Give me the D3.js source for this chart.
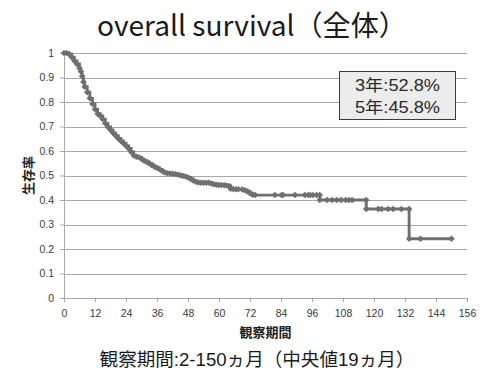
<!DOCTYPE html>
<html><head><meta charset="utf-8">
<script src="https://cdn.jsdelivr.net/npm/d3@7"></script>
<style>body{margin:0;background:#fff}svg{display:block}</style>
</head><body>
<svg id="chart" width="500" height="380"></svg>
<script>
// ---- data ----
const months = [
  0, 1, 2, 3, 4, 5, 6, 6.5, 7, 7.5, 8, 9, 10, 11, 12, 13, 14, 15, 16, 17, 18, 19, 20,
  21, 22, 23, 24, 25, 26, 27, 28, 29, 30, 31, 32, 33, 34, 35, 36, 37, 38, 39, 40,
  41, 42, 43, 44, 45, 46, 47, 48, 49, 50, 51, 52, 53, 54, 55, 56, 57, 58, 59, 60,
  61, 62, 63, 64, 64.5, 65.5, 66.5, 67.5, 69, 70, 71, 72, 73,
  74, 81.6, 84.2, 84.8, 89.4, 93.2, 94.5, 95.4, 96.4, 97.8, 99,
  99, 101.8, 103.8, 105.5, 107.2, 109.1, 110.3, 111.5, 117,
  117, 121.6, 122.9, 125.5, 127.4, 130.6, 133.6,
  133.6, 138, 150
];
const survival = [
  1.000, 1.000, 0.995, 0.983, 0.968, 0.955, 0.938, 0.925, 0.905, 0.882, 0.862, 0.840, 0.815, 0.792, 0.770, 0.752, 0.743, 0.730, 0.712, 0.698, 0.686, 0.673, 0.662,
  0.651, 0.641, 0.632, 0.621, 0.610, 0.596, 0.582, 0.577, 0.574, 0.567, 0.560, 0.555, 0.549, 0.542, 0.536, 0.531, 0.525, 0.518, 0.512, 0.509,
  0.508, 0.507, 0.506, 0.504, 0.501, 0.498, 0.496, 0.492, 0.486, 0.480, 0.474, 0.471, 0.470, 0.470, 0.470, 0.470, 0.467, 0.464, 0.462, 0.461,
  0.461, 0.460, 0.459, 0.457, 0.446, 0.445, 0.444, 0.444, 0.443, 0.440, 0.435, 0.428, 0.421,
  0.420, 0.420, 0.420, 0.420, 0.420, 0.420, 0.420, 0.420, 0.420, 0.420, 0.420,
  0.400, 0.400, 0.400, 0.400, 0.400, 0.400, 0.400, 0.400, 0.400,
  0.363, 0.363, 0.363, 0.363, 0.363, 0.363, 0.363,
  0.242, 0.242, 0.242
];
const xTicks = [0, 12, 24, 36, 48, 60, 72, 84, 96, 108, 120, 132, 144, 156];
const yTicks = [0, 0.1, 0.2, 0.3, 0.4, 0.5, 0.6, 0.7, 0.8, 0.9, 1];
const yTickLabels = ["0", "0.1", "0.2", "0.3", "0.4", "0.5", "0.6", "0.7", "0.8", "0.9", "1"];
const titleText = "overall survival（全体）";
const xTitle = "観察期間";
const yTitle = "生存率";
const noteLines = ["3年:52.8%", "5年:45.8%"];
const subtitleText = "観察期間:2-150ヵ月（中央値19ヵ月）";

// ---- drawing ----
const svg = d3.select("#chart");
const W = 500, H = 380;
const m = {left: 64, right: 33, top: 53, bottom: 82};
const x = d3.scaleLinear().domain([0, 156]).range([m.left, W - m.right]);
const y = d3.scaleLinear().domain([0, 1]).range([H - m.bottom, m.top]);
const cjk = "'Noto Sans CJK JP', 'Noto Sans', sans-serif";
const latin = "'Liberation Sans', 'Noto Sans CJK JP', sans-serif";
const gridColor = "#a8a8a8";
const lineColor = "#6f6f6f";

// gridlines
svg.append("g").selectAll("line").data(yTicks.filter(d => d > 0)).join("line")
  .attr("x1", x(0)).attr("x2", x(156))
  .attr("y1", d => Math.round(y(d)) + 0.5).attr("y2", d => Math.round(y(d)) + 0.5)
  .attr("stroke", gridColor).attr("stroke-width", 1);

// y axis
const yAxis = svg.append("g").attr("transform", `translate(${x(0)},0)`)
  .call(d3.axisLeft(y).tickValues(yTicks).tickFormat((d, i) => yTickLabels[i]).tickSize(4).tickPadding(6));
// x axis
const xAxis = svg.append("g").attr("transform", `translate(0,${y(0)})`)
  .call(d3.axisBottom(x).tickValues(xTicks).tickFormat(d3.format("d")).tickSize(4).tickPadding(8));
[yAxis, xAxis].forEach(a => {
  a.select(".domain").attr("stroke", gridColor);
  a.selectAll(".tick line").attr("stroke", gridColor);
  a.selectAll(".tick text").attr("fill", "#3a3a3a")
    .style("font-family", "'Liberation Sans', sans-serif").style("font-size", "10.5px");
});

// curve
const pts = months.map((mo, i) => [mo, survival[i]]);
svg.append("path").datum(pts)
  .attr("fill", "none").attr("stroke", lineColor).attr("stroke-width", 2.9)
  .attr("d", d3.line().x(d => x(d[0])).y(d => y(d[1])).curve(d3.curveStepAfter));
svg.append("g").selectAll("path").data(pts).join("path")
  .attr("transform", d => `translate(${x(d[0])},${y(d[1])}) rotate(45)`)
  .attr("d", d3.symbol(d3.symbolSquare, 21))
  .attr("fill", lineColor);

// title
function fitWidth(sel, target) {
  const w = sel.node().getComputedTextLength();
  const fs = parseFloat(sel.style("font-size"));
  sel.style("font-size", (fs * target / w) + "px");
}
const t = svg.append("text").attr("x", 252).attr("y", 36).attr("text-anchor", "middle")
  .style("font-family", cjk).style("font-size", "27px").attr("fill", "#1a1a1a").text(titleText);
fitWidth(t, 310);

// axis titles
svg.append("text").attr("x", (x(0) + x(156)) / 2).attr("y", 337).attr("text-anchor", "middle")
  .style("font-family", cjk).style("font-size", "13px").style("font-weight", "bold").attr("fill", "#222")
  .text(xTitle);
svg.append("text").attr("transform", `translate(33,${(y(0) + y(1)) / 2}) rotate(-90)`)
  .attr("text-anchor", "middle")
  .style("font-family", cjk).style("font-size", "13px").style("font-weight", "bold").attr("fill", "#222")
  .text(yTitle);

// note box
const bx = 339.5, by = 71.5, bw = 116, bh = 48;
svg.append("rect").attr("x", bx).attr("y", by).attr("width", bw).attr("height", bh)
  .attr("fill", "#ececec").attr("stroke", "#3a3a3a").attr("stroke-width", 1);
noteLines.forEach((s, i) => {
  svg.append("text").attr("x", 355).attr("y", 91 + i * 21.5)
    .attr("textLength", 85).attr("lengthAdjust", "spacingAndGlyphs")
    .style("font-family", latin).style("font-size", "16px").attr("fill", "#2a2a2a").text(s);
});

// subtitle
const st = svg.append("text").attr("x", 257).attr("y", 366).attr("text-anchor", "middle")
  .style("font-family", latin).style("font-size", "18px").attr("fill", "#1a1a1a").text(subtitleText);
fitWidth(st, 315);
</script>
</body></html>
